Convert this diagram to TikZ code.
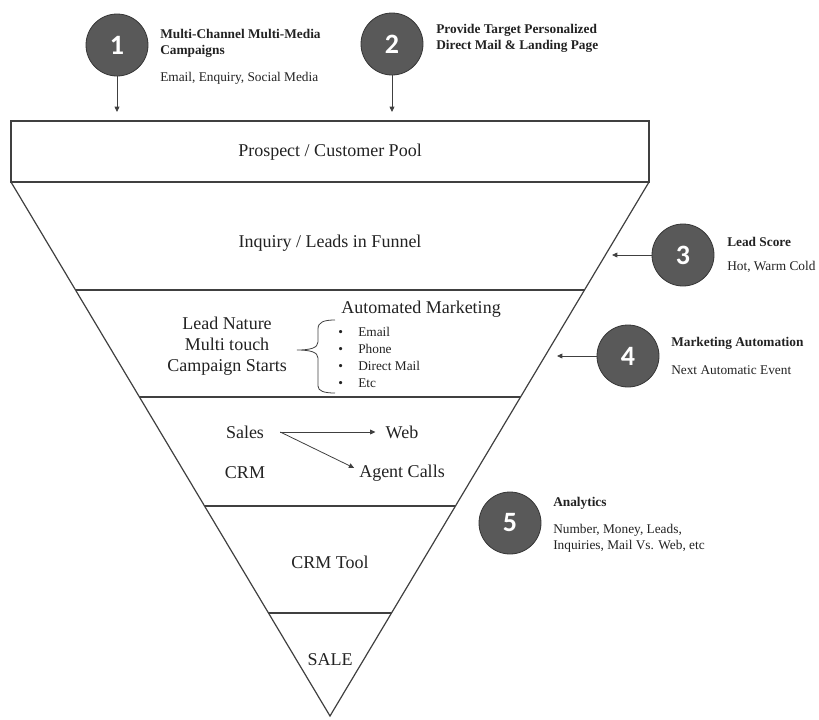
\documentclass[tikz,border=0pt]{standalone}
\usepackage{fontspec}
\setmainfont{Liberation Serif}
\newfontfamily\bodyface{Liberation Serif}
\newfontfamily\numfont{Carlito}
\usetikzlibrary{arrows.meta,calc}
\definecolor{ink}{HTML}{222222}
\definecolor{edge}{HTML}{404040}
\definecolor{disc}{HTML}{595959}
\definecolor{discrim}{HTML}{353535}

\begin{document}
\begin{tikzpicture}[x=0.75pt,y=-0.75pt,
  funnelline/.style={draw=edge,line width=0.9pt},
  stepdisc/.style={circle,fill=disc,draw=discrim,line width=0.6pt,minimum size=46.5pt,inner sep=0pt,
    text=white,font=\numfont\bfseries\fontsize{21}{21}\selectfont},
  arr/.style={draw=edge,line width=0.6pt,-{Triangle[length=4pt,width=3.6pt]}},
  big/.style={text=ink,inner sep=0pt,align=center,font=\bodyface\fontsize{13.5}{15.75}\selectfont},
  ttl/.style={text=ink,inner sep=0pt,anchor=west,align=left,font=\bodyface\bfseries\fontsize{10}{12}\selectfont},
  note/.style={text=ink,inner sep=0pt,anchor=west,align=left,font=\bodyface\fontsize{10}{12}\selectfont},
]
\useasboundingbox (0,0) rectangle (819,719);

% ---- funnel outline ----
\coordinate (TL) at (11,121);
\coordinate (TR) at (649,121);
\coordinate (BL) at (11,182);
\coordinate (BR) at (649,182);
\coordinate (tip) at (330,716);
\draw[funnelline] (TL) rectangle (BR);
\draw[funnelline] (BL) -- (tip) -- (BR);
\foreach \t in {0.2022,0.4026,0.6067,0.8071}
  \draw[funnelline] ($(BL)!\t!(tip)$) -- ($(BR)!\t!(tip)$);

% ---- funnel stage texts ----
\node[big] (pool) at (330,152) {Prospect / Customer Pool};
\node[big] (inquiry) at (330,243) {Inquiry / Leads in Funnel};
\node[big] (nature) at (227,346) {Lead Nature\\Multi touch\\Campaign Starts};
\node[big] (automk) at (421,309) {Automated Marketing};
\node[note,font=\bodyface\fontsize{10}{12.75}\selectfont] (channels) at (338,357.5)
  {\makebox[15pt][l]{\textbullet}Email\\
   \makebox[15pt][l]{\textbullet}Phone\\
   \makebox[15pt][l]{\textbullet}Direct Mail\\
   \makebox[15pt][l]{\textbullet}Etc};
% curly brace joining the campaign to its channels
\draw[edge,line width=0.6pt]
  (335,320) .. controls (324,320) and (318,322) .. (318,329) -- (318,342)
  .. controls (318,348) and (310,350) .. (297,350)
  .. controls (310,350) and (318,352) .. (318,358) -- (318,386)
  .. controls (318,391) and (324,393) .. (335,393);

\node[big] (sales) at (245,432) {Sales};
\node[big] (crm) at (245,473) {CRM};
\node[big] (web) at (402,432) {Web};
\node[big] (agent) at (402,473) {Agent Calls};
\coordinate (fork) at ([xshift=12pt]sales.east);
\draw[arr] (fork) -- ([xshift=-7.5pt]web.west);
\draw[arr,shorten >=4pt] (fork) -- ([yshift=2pt]agent.west);

\node[big] (crmtool) at (330,562) {CRM Tool};
\node[big] (sale) at (330,660) {SALE};

% ---- numbered steps ----
\node[stepdisc] (s1) at (117,45) {1};
\node[stepdisc] (s2) at (392,44) {2};
\node[stepdisc] (s3) at (683,255) {3};
\node[stepdisc] (s4) at (628,356) {4};
\node[stepdisc] (s5) at (510,523) {5};

\coordinate (e1) at (117,112);
\coordinate (e2) at (392,112);
\coordinate (e3) at (612,255);
\coordinate (e4) at (557,356);
\draw[arr] (s1) -- (e1);
\draw[arr] (s2) -- (e2);
\draw[arr] (s3) -- (e3);
\draw[arr] (s4) -- (e4);

% ---- step descriptions ----
\node[ttl] (t1) at (160,43.5) {Multi-Channel Multi-Media\\Campaigns};
\node[note] (n1) at (160,78) {Email, Enquiry, Social Media};
\node[ttl] (t2) at (436,38) {Provide Target Personalized\\Direct Mail \& Landing Page};
\node[ttl] (t3) at (727,242) {Lead Score};
\node[note] (n3) at (727,267) {Hot, Warm Cold};
\node[ttl] (t4) at (671,343) {Marketing Automation};
\node[note] (n4) at (671,370) {Next Automatic Event};
\node[ttl] (t5) at (553,503) {Analytics};
\node[note] (n5) at (553,538) {Number, Money, Leads,\\Inquiries, Mail Vs. Web, etc};
\end{tikzpicture}
\end{document}
